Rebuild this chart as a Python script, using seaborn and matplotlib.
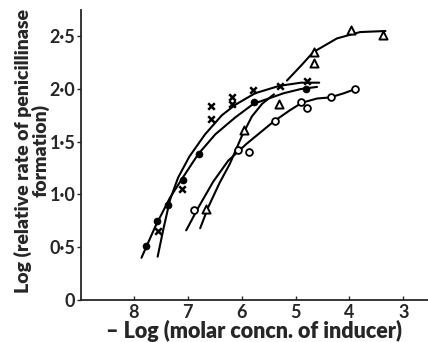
import pandas as pd
import seaborn as sns
import matplotlib.pyplot as plt

# points: x = -log(molar concn.), y = log(relative rate)
filled_x = [7.78, 7.58, 7.37, 7.08, 6.79, 5.78, 4.81]
filled_y = [0.51, 0.75, 0.90, 1.14, 1.38, 1.88, 2.00]

cross_x = [7.55, 7.11, 6.57, 6.57, 6.17, 6.17, 5.79, 5.29, 4.79]
cross_y = [0.65, 1.05, 1.72, 1.84, 1.92, 1.86, 1.99, 2.03, 2.08]

tri_x = [6.66, 5.96, 5.30, 4.65, 4.65, 3.97, 3.37]
tri_y = [0.86, 1.61, 1.86, 2.25, 2.35, 2.56, 2.51]

open_x = [6.88, 6.06, 5.86, 5.39, 4.90, 4.79, 4.34, 3.89]
open_y = [0.85, 1.42, 1.40, 1.70, 1.88, 1.82, 1.92, 2.00]

# hand-drawn curves
curve_filled_x = [7.86, 7.60, 7.33, 7.08, 6.81, 6.49, 6.12, 5.78, 5.22, 4.90, 4.60]
curve_filled_y = [0.40, 0.70, 0.97, 1.17, 1.38, 1.57, 1.73, 1.86, 1.96, 2.00, 2.02]

curve_cross_x = [7.56, 7.45, 7.33, 7.18, 6.97, 6.68, 6.37, 6.12, 5.75, 5.30, 4.90, 4.56]
curve_cross_y = [0.41, 0.68, 0.95, 1.16, 1.36, 1.57, 1.75, 1.85, 1.96, 2.03, 2.06, 2.06]

curve_tri_low_x = [6.77, 6.62, 6.41, 6.22, 6.00, 5.81, 5.62, 5.40]
curve_tri_low_y = [0.68, 0.88, 1.11, 1.29, 1.55, 1.74, 1.86, 1.95]

curve_tri_high_x = [5.16, 4.90, 4.67, 4.23, 3.80, 3.33]
curve_tri_high_y = [2.08, 2.22, 2.35, 2.48, 2.54, 2.55]

curve_open_x = [7.03, 6.80, 6.53, 6.25, 5.91, 5.41, 5.10, 4.88, 4.60, 4.36, 4.10, 3.89]
curve_open_y = [0.66, 0.88, 1.12, 1.32, 1.48, 1.69, 1.80, 1.87, 1.91, 1.92, 1.96, 2.00]

x_ticks = [8, 7, 6, 5, 4, 3]
y_ticks = [0, 0.5, 1.0, 1.5, 2.0, 2.5]
y_labels = ['0', '0·5', '1·0', '1·5', '2·0', '2·5']

sns.set_style("ticks")
plt.rcParams['font.family'] = ['Lato', 'DejaVu Sans']
plt.rcParams['font.weight'] = 'bold'

fig = plt.figure(figsize=(4.28, 3.42), dpi=100)
ax = fig.add_axes([0.189, 0.123, 0.811, 0.848])

curves = [
    (curve_filled_x, curve_filled_y),
    (curve_cross_x, curve_cross_y),
    (curve_tri_low_x, curve_tri_low_y),
    (curve_tri_high_x, curve_tri_high_y),
    (curve_open_x, curve_open_y),
]
for cx, cy in curves:
    df = pd.DataFrame({"x": cx, "y": cy})
    sns.lineplot(data=df, x="x", y="y", sort=False, color="black",
                 linewidth=1.5, ax=ax, zorder=2)

pts = pd.DataFrame({"x": filled_x, "y": filled_y})
sns.scatterplot(data=pts, x="x", y="y", marker="o", s=26, color="black",
                edgecolor="black", ax=ax, zorder=3)
pts = pd.DataFrame({"x": open_x, "y": open_y})
sns.scatterplot(data=pts, x="x", y="y", marker="o", s=24, facecolor="white",
                edgecolor="black", linewidth=1.3, ax=ax, zorder=3)
pts = pd.DataFrame({"x": tri_x, "y": tri_y})
sns.scatterplot(data=pts, x="x", y="y", marker="^", s=34, facecolor="white",
                edgecolor="black", linewidth=1.4, ax=ax, zorder=3)
pts = pd.DataFrame({"x": cross_x, "y": cross_y})
sns.scatterplot(data=pts, x="x", y="y", marker="x", s=22, color="black",
                linewidth=1.8, ax=ax, zorder=3)

ax.set_xlim(8.985, 2.54)
ax.set_ylim(0, 2.75)
ax.set_xticks(x_ticks)
ax.set_yticks(y_ticks)
ax.set_yticklabels(y_labels)
ax.tick_params(axis='x', direction='in', length=3, width=1, pad=3, labelsize=13)
ax.tick_params(axis='y', direction='out', length=3, width=1, pad=1, labelsize=13)
sns.despine(ax=ax)
for s in ['left', 'bottom']:
    ax.spines[s].set_linewidth(1.3)

ax.set_xlabel("– Log (molar concn. of inducer)", fontsize=15.5, fontweight='heavy',
              labelpad=0)
ax.xaxis.set_label_coords(0.5, -0.07, transform=ax.transAxes)
ax.xaxis.label.set_va('top')
ax.set_ylabel("Log (relative rate of penicillinase\nformation)", fontsize=14,
              fontweight='heavy', linespacing=0.95)
ax.yaxis.set_label_coords(-0.141, 0.515)
ax.yaxis.label.set_va('center')

fig.savefig("out.png", dpi=100)
